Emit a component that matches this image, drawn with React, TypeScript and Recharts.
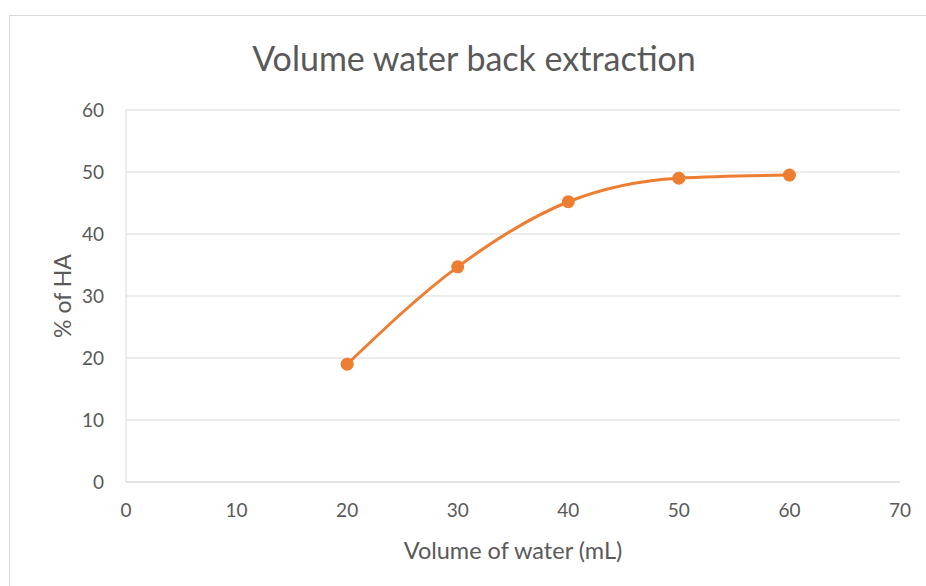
import React from "react";
import { LineChart, Line, XAxis, YAxis, CartesianGrid } from "recharts";

// Back-extraction results: water volume (mL) vs. recovered HA (%)
const volumes = [20, 30, 40, 50, 60];
const haPercent = [19.0, 34.7, 45.2, 49.0, 49.5];
const xTicks = [0, 10, 20, 30, 40, 50, 60, 70];
const yTicks = [0, 10, 20, 30, 40, 50, 60];

const data = volumes.map((v, i) => ({ volume: v, ha: haPercent[i] }));

const FONT = "Lato, 'Liberation Sans', sans-serif";
const TEXT = "#595959";
const GRID = "#d9d9d9";
const ORANGE = "#ED7D31";

const YTitle = ({ viewBox }: any) => {
  const cy = viewBox.y + viewBox.height / 2;
  return (
    <text
      x={62}
      y={cy}
      transform={`rotate(-90, 62, ${cy})`}
      textAnchor="middle"
      dominantBaseline="central"
      fill={TEXT}
      fontSize={23}
      fontFamily={FONT}
    >
      % of HA
    </text>
  );
};

const XTitle = ({ viewBox }: any) => (
  <text
    x={viewBox.x + viewBox.width / 2}
    y={550}
    textAnchor="middle"
    dominantBaseline="central"
    fill={TEXT}
    fontSize={23.5}
    fontFamily={FONT}
  >
    Volume of water (mL)
  </text>
);

export default function App() {
  return (
    <div style={{ position: "absolute", left: 0, top: 0, width: 926, height: 586, overflow: "hidden", background: "#fff" }}>
      <div
        style={{
          position: "absolute",
          left: 9,
          top: 15,
          width: 940,
          height: 600,
          borderLeft: "1px solid #d9d9d9",
          borderTop: "1px solid #d9d9d9",
        }}
      />
      <div
        style={{
          position: "absolute",
          left: 0,
          width: 948,
          top: 36,
          textAlign: "center",
          fontFamily: FONT,
          fontSize: 34,
          color: TEXT,
          lineHeight: "44px",
        }}
      >
        Volume water back extraction
      </div>
      <LineChart
        width={926}
        height={586}
        data={data}
        margin={{ top: 110, right: 26, left: 0, bottom: 0 }}
        style={{ position: "absolute", left: 0, top: 0 }}
      >
        <CartesianGrid vertical={false} stroke={GRID} strokeWidth={1} />
        <XAxis
          dataKey="volume"
          type="number"
          domain={[0, 70]}
          ticks={xTicks}
          height={104}
          axisLine={{ stroke: GRID }}
          tickLine={false}
          tickSize={0}
          tickMargin={22}
          tick={{ fill: TEXT, fontSize: 19, fontFamily: FONT }}
          label={<XTitle />}
        />
        <YAxis
          type="number"
          domain={[0, 60]}
          ticks={yTicks}
          width={126}
          axisLine={{ stroke: GRID }}
          tickLine={false}
          tickSize={0}
          tickMargin={22}
          tick={{ fill: TEXT, fontSize: 19, fontFamily: FONT }}
          label={<YTitle />}
        />
        <Line
          dataKey="ha"
          type="monotone"
          stroke={ORANGE}
          strokeWidth={3}
          dot={{ r: 6.5, fill: ORANGE, stroke: ORANGE, strokeWidth: 0 }}
          isAnimationActive={false}
        />
      </LineChart>
    </div>
  );
}
